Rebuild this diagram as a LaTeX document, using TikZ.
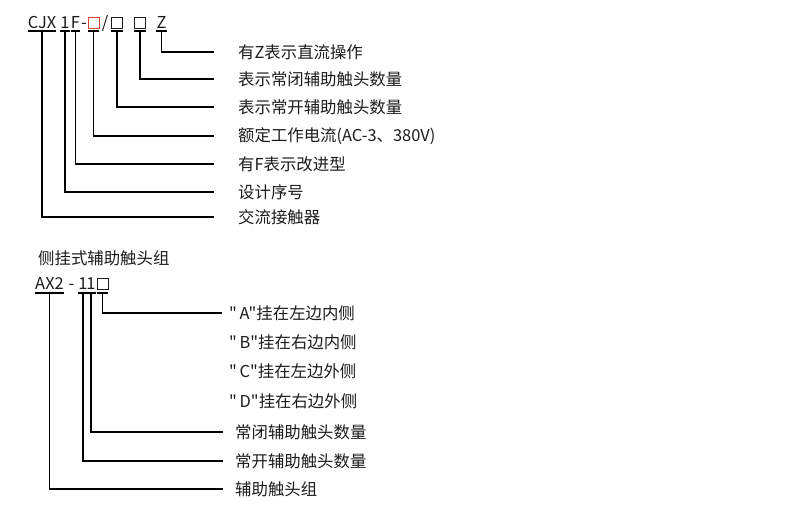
\documentclass[tikz,border=0pt]{standalone}
\usepackage{fontspec}
\setmainfont{Noto Sans CJK SC}[Ligatures=TeXOff]
\usepackage{xcolor}
\usepackage{tikz}
\definecolor{boxred}{RGB}{214,72,52}
\definecolor{inkgray}{RGB}{30,27,28}
\newcommand{\lblfont}{\fontsize{16.4}{19}\selectfont}

\begin{document}
\begin{tikzpicture}[x=1pt,y=-1pt,
    lbl/.style={anchor=west,inner sep=0pt,text=inkgray,font=\lblfont},
    code/.style={anchor=base,inner sep=0pt,text=inkgray,font=\lblfont},
    bx/.style={draw=inkgray,line width=0.9pt,minimum size=11pt,inner sep=0pt},
    lead/.style={line width=1.1pt}]
    \useasboundingbox[fill=white] (0,0) rectangle (800,512);
    % model code CJX1F
    \node[code] (cjx) at (42,28) {CJX};
    \node[code] (c1) at (65,28) {1};
    \node[code] (cf) at (75.5,28) {F};
    \node[code] (cdash) at (84,28) {-};
    \node[bx,draw=boxred] (cb1) at (93.5,22.5) {};
    \node[code] (cslash) at (105,28) {/};
    \node[bx] (cb2) at (117,22.5) {};
    \node[bx] (cb3) at (140,22.5) {};
    \node[code] (cz) at (161.5,28) {Z};
    % labels
    \foreach \n/\y/\t in {lz/52/{有Z表示直流操作}, lnc/79/{表示常闭辅助触头数量}, lno/107/{表示常开辅助触头数量},
        lcur/136/{额定工作电流(AC-3、380V)}, lf/164/{有F表示改进型}, lser/192/{设计序号}, lcon/217/{交流接触器}}
        {\node[lbl] (\n) at (238,\y) {\t};}
    % underlines and leaders
    \foreach \p/\n in {cz/lz, cb3/lnc, cb2/lno, cb1/lcur, cf/lf, c1/lser, cjx/lcon} {
        \draw[lead] (\p.west |- 0,31) -- (\p.east |- 0,31);
        \draw[lead] (\p |- 0,31) |- ([xshift=-24pt]\n.west);
    }
    % side mounted auxiliary contact block
    \begin{scope}
        \node[lbl] (side) at (38,258) {侧挂式辅助触头组};
        \node[code] (ax) at (49.5,289) {AX2};
        \node[code] (adash) at (71.5,289) {-};
        \node[code] (a1) at (83,289) {1};
        \node[code] (a2) at (91,289) {1};
        \node[bx] (ab) at (102.5,283.5) {};
        \foreach \n/\y/\t in {la/313/{"\,A"挂在左边内侧}, lb/342/{"\,B"挂在右边内侧},
            lc/371/{"\,C"挂在左边外侧}, ld/401/{"\,D"挂在右边外侧}}
            {\node[lbl] (\n) at (229,\y) {\t};}
        \foreach \n/\y/\t in {anc/432/{常闭辅助触头数量}, ano/461/{常开辅助触头数量}, agrp/489/{辅助触头组}}
            {\node[lbl] (\n) at (235,\y) {\t};}
        \foreach \p in {ax, a1, a2, ab} {\draw[lead] (\p.west |- 0,293) -- (\p.east |- 0,293);}
        \draw[lead] (ab |- 0,293) |- ([xshift=-7pt]la.west);
        \draw[lead] (a2 |- 0,293) |- ([xshift=-12pt]anc.west);
        \draw[lead] (a1 |- 0,293) |- ([xshift=-12pt]ano.west);
        \draw[lead] (ax |- 0,293) |- ([xshift=-12pt]agrp.west);
    \end{scope}
\end{tikzpicture}
\end{document}
